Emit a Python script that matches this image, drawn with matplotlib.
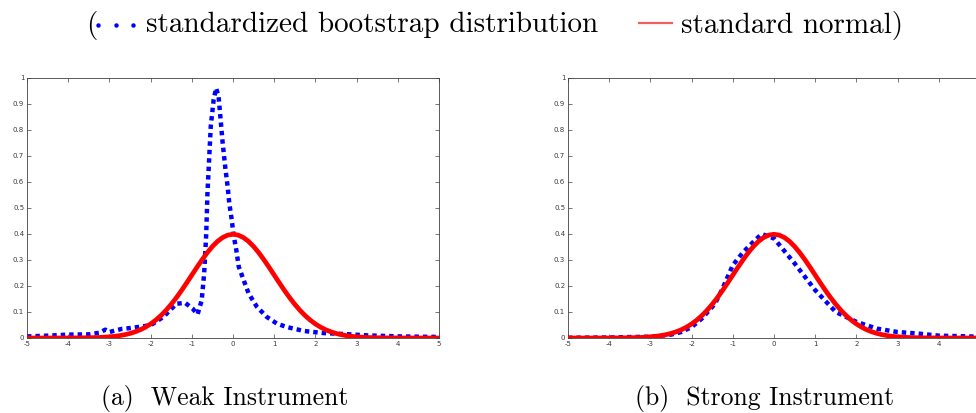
import matplotlib
matplotlib.use("Agg")
import matplotlib.pyplot as plt
from matplotlib.lines import Line2D

plt.rcParams['axes.unicode_minus'] = False

# bootstrap density
weak_x = [-5, -4.5, -4, -3.5, -3.25, -3.1, -3.0, -2.7, -2.5, -2.0, -1.69, -1.49, -1.37,
          -1.16, -0.98, -0.86, -0.76, -0.70, -0.65, -0.62, -0.58, -0.54, -0.47, -0.41,
          -0.35, -0.30, -0.25, -0.19, -0.13, -0.09, -0.03, 0.01, 0.08, 0.14, 0.26, 0.38,
          0.58, 0.82, 1.07, 1.31, 1.72, 1.96, 2.2, 2.85, 3.26, 4.07, 5]
weak_y = [0.006, 0.009, 0.013, 0.014, 0.02, 0.032, 0.023, 0.035, 0.038, 0.049, 0.081,
          0.113, 0.132, 0.135, 0.113, 0.091, 0.145, 0.248, 0.40, 0.557, 0.685, 0.814,
          0.916, 0.961, 0.929, 0.839, 0.749, 0.659, 0.582, 0.518, 0.454, 0.40, 0.338,
          0.274, 0.222, 0.171, 0.12, 0.081, 0.055, 0.042, 0.027, 0.023, 0.019, 0.014,
          0.01, 0.006, 0.004]

# bootstrap density
strong_x = [-5, -4, -3, -2.5, -2.25, -2.0, -1.75, -1.43, -1.25, -1.0, -0.75, -0.5, -0.3,
            0.0, 0.5, 1.0, 1.5, 2.0, 2.5, 3.0, 3.5, 4.0, 5.0]
strong_y = [0.001, 0.002, 0.005, 0.013, 0.023, 0.042, 0.075, 0.132, 0.19, 0.28, 0.33,
            0.37, 0.40, 0.383, 0.287, 0.184, 0.10, 0.062, 0.036, 0.023, 0.017, 0.009,
            0.005]

# standard normal reference curve
norm_x = [-5, -4.75, -4.5, -4.25, -4, -3.75, -3.5, -3.25, -3, -2.875, -2.75, -2.625, -2.5,
          -2.375, -2.25, -2.125, -2, -1.875, -1.75, -1.625, -1.5, -1.375, -1.25, -1.125,
          -1, -0.875, -0.75, -0.625, -0.5, -0.375, -0.25, -0.125, 0, 0.125, 0.25, 0.375,
          0.5, 0.625, 0.75, 0.875, 1, 1.125, 1.25, 1.375, 1.5, 1.625, 1.75, 1.875, 2,
          2.125, 2.25, 2.375, 2.5, 2.625, 2.75, 2.875, 3, 3.25, 3.5, 3.75, 4, 4.25, 4.5,
          4.75, 5]
norm_y = [0.0, 0.0, 0.0, 0.0, 0.0001, 0.0004, 0.0009, 0.0020, 0.00443, 0.00640, 0.00909,
          0.01272, 0.01753, 0.02377, 0.03174, 0.04173, 0.05399, 0.06879, 0.08628, 0.10654,
          0.12952, 0.15501, 0.18265, 0.21188, 0.24197, 0.27205, 0.30114, 0.32816, 0.35207,
          0.37186, 0.38667, 0.39584, 0.39894, 0.39584, 0.38667, 0.37186, 0.35207, 0.32816,
          0.30114, 0.27205, 0.24197, 0.21188, 0.18265, 0.15501, 0.12952, 0.10654, 0.08628,
          0.06879, 0.05399, 0.04173, 0.03174, 0.02377, 0.01753, 0.01272, 0.00909, 0.00640,
          0.00443, 0.0020, 0.0009, 0.0004, 0.0001, 0.0, 0.0, 0.0, 0.0]

xticks = [-5, -4, -3, -2, -1, 0, 1, 2, 3, 4, 5]
yticks = [0, 0.1, 0.2, 0.3, 0.4, 0.5, 0.6, 0.7, 0.8, 0.9, 1]
ytick_labels = ['0', '0.1', '0.2', '0.3', '0.4', '0.5', '0.6', '0.7', '0.8', '0.9', '1']
captions = ['(a)  Weak Instrument', '(b)  Strong Instrument']

fig = plt.figure(figsize=(9.76, 4.13), dpi=100)
ax1 = fig.add_axes([27 / 976, 75 / 413, 412 / 976, 260 / 413])
ax2 = fig.add_axes([568 / 976, 75 / 413, 412 / 976, 260 / 413])

for ax, bx, by in [(ax1, weak_x, weak_y), (ax2, strong_x, strong_y)]:
    ax.plot(bx, by, color='#0000ff', lw=3.2, ls=(0, (1, 0.9)),
            dash_capstyle='butt', zorder=2)
    ax.plot(norm_x, norm_y, color='#ff0000', lw=3.4, zorder=3)
    ax.set_xlim(-5, 5)
    ax.set_ylim(0, 1)
    ax.set_xticks(xticks)
    ax.set_xticklabels([str(t) for t in xticks])
    ax.set_yticks(yticks)
    ax.set_yticklabels(ytick_labels)
    ax.tick_params(direction='in', length=3, width=0.5, labelsize=5, color='#404040',
                   labelcolor='#3a3a3a', top=True, right=True, pad=2)
    for s in ax.spines.values():
        s.set_linewidth(0.6)
        s.set_color('#404040')

# the right panel runs past the picture's edge, so its last x label is not seen
ax2.get_xticklabels()[-1].set_visible(False)

# legend line at the top
serif = 'cmr10'
ly = 1 - 25 / 413
fig.text(86 / 976, ly, '(', fontsize=21, family=serif, va='center')
fig.add_artist(Line2D([98 / 976, 116 / 976, 133 / 976], [ly] * 3, color='#0000ff',
                      ls='none', marker='o', ms=3.2, mew=0))
fig.text(146 / 976, ly, 'standardized bootstrap distribution', fontsize=21,
         family=serif, va='center')
fig.add_artist(Line2D([639 / 976, 672 / 976], [1 - 23 / 413] * 2, color='#f06060', lw=1.6))
fig.text(681 / 976, ly, 'standard normal)', fontsize=21, family=serif, va='center')

fig.text(101 / 976, 1 - 398 / 413, captions[0], fontsize=18.5, family=serif,
         ha='left', va='center')
fig.text(635 / 976, 1 - 398 / 413, captions[1], fontsize=18.5, family=serif,
         ha='left', va='center')

fig.savefig('out.png', dpi=100)
